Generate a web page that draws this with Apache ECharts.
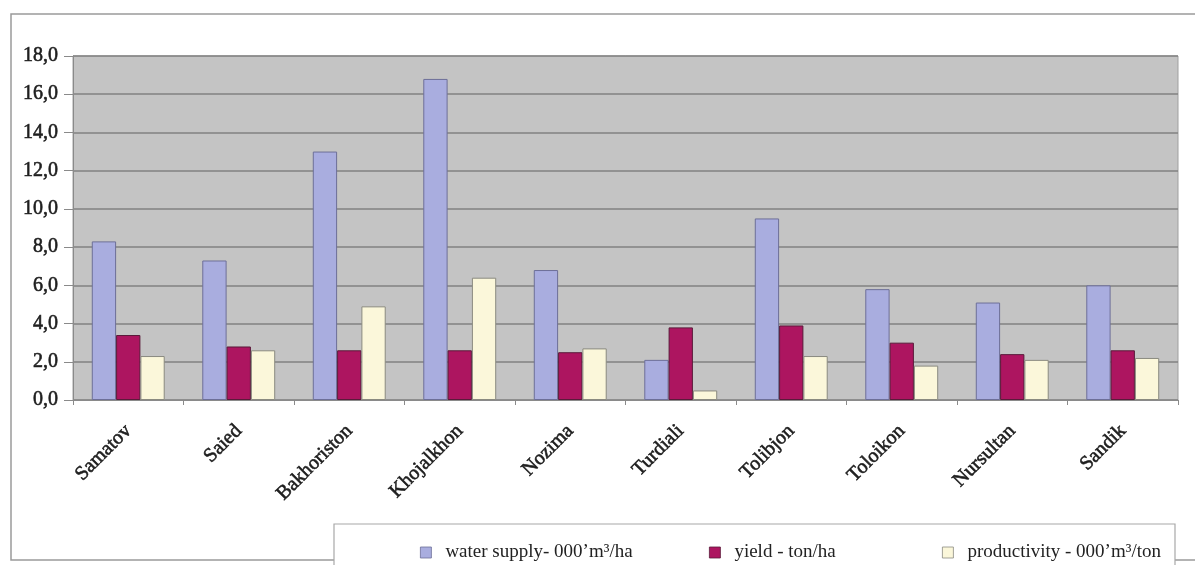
<!DOCTYPE html>
<html>
<head>
<meta charset="utf-8">
<script src="https://cdn.jsdelivr.net/npm/echarts@6/dist/echarts.min.js"></script>
<style>
  html, body { margin: 0; padding: 0; background: #ffffff; }
  #chart { width: 1195px; height: 565px; }
</style>
</head>
<body>
<div id="chart"></div>
<script>
// Farm names along the category axis
const farms = ['Samatov', 'Saied', 'Bakhoriston', 'Khojalkhon', 'Nozima',
               'Turdiali', 'Tolibjon', 'Toloikon', 'Nursultan', 'Sandik'];

// Series values per farm
const waterSupply  = [8.3, 7.3, 13.0, 16.8, 6.8, 2.1, 9.5, 5.8, 5.1, 6.0];
const yieldTon     = [3.4, 2.8, 2.6, 2.6, 2.5, 3.8, 3.9, 3.0, 2.4, 2.6];
const productivity = [2.3, 2.6, 4.9, 6.4, 2.7, 0.5, 2.3, 1.8, 2.1, 2.2];

// Series names as shown in the legend
const seriesNames = ['water supply- 000\u2019m\u00B3/ha', 'yield - ton/ha', 'productivity - 000\u2019m\u00B3/ton'];

// Value axis ticks
const yMin = 0, yMax = 18, yStep = 2;

const serif = '"Liberation Serif", "DejaVu Serif", serif';
const colors = ['#a9addf', '#ad1560', '#fbf7da'];
const borders = ['#6d6f98', '#5a1a3a', '#8a8a80'];

const chart = echarts.init(document.getElementById('chart'), null, { renderer: 'canvas' });

// one legend block per series so each entry sits in its own column
function legendFor(i, left) {
  return {
    show: true,
    data: [seriesNames[i]],
    left: left,
    top: 538,
    itemWidth: 11,
    itemHeight: 11,
    itemGap: 0,
    icon: 'rect',
    itemStyle: { borderColor: borders[i], borderWidth: 0.8 },
    textStyle: { fontFamily: serif, fontSize: 19, color: '#222', padding: [0, 0, 0, 9] },
    selectedMode: false
  };
}

// axis label text: regular serif, slightly thickened with a same-colour outline
const axisText = {
  fontFamily: serif, fontSize: 20, color: '#1e1e1e',
  textBorderColor: '#2a2a2a', textBorderWidth: 0.6
};

const option = {
  backgroundColor: '#ffffff',
  animation: false,
  graphic: [
    { type: 'rect', shape: { x: 11, y: 14, width: 1200, height: 546 },
      style: { fill: 'none', stroke: '#9a9a9a', lineWidth: 1.5 }, z: -1 },
    { type: 'rect', shape: { x: 334, y: 524, width: 841, height: 60 },
      style: { fill: '#ffffff', stroke: '#a8a8a8', lineWidth: 1.2 }, z: 1 }
  ],
  legend: [legendFor(0, 415), legendFor(1, 704), legendFor(2, 937)],
  grid: {
    left: 73, right: 17, top: 56, bottom: 165,
    show: true, backgroundColor: '#c4c4c4', borderColor: '#a0a0a0', borderWidth: 1
  },
  xAxis: {
    type: 'category',
    data: farms,
    axisLine: { show: true, lineStyle: { color: '#8a8a8a', width: 1 } },
    axisTick: { show: true, length: 5, lineStyle: { color: '#8a8a8a' } },
    axisLabel: Object.assign({ rotate: 45, margin: 28 }, axisText)
  },
  yAxis: {
    type: 'value',
    min: yMin, max: yMax, interval: yStep,
    axisLine: { show: true, lineStyle: { color: '#8a8a8a', width: 1 } },
    axisTick: { show: true, length: 9, lineStyle: { color: '#8a8a8a' } },
    axisLabel: Object.assign({
      margin: 15,
      formatter: v => v.toFixed(1).replace('.', ',')
    }, axisText),
    splitLine: { show: true, lineStyle: { color: '#828282', width: 1.6 } }
  },
  series: [waterSupply, yieldTon, productivity].map((vals, i) => ({
    name: seriesNames[i],
    type: 'bar',
    data: vals,
    barGap: '0%',
    barCategoryGap: '34%',
    itemStyle: { color: colors[i], borderColor: borders[i], borderWidth: 1 }
  }))
};

chart.setOption(option);
</script>
</body>
</html>
